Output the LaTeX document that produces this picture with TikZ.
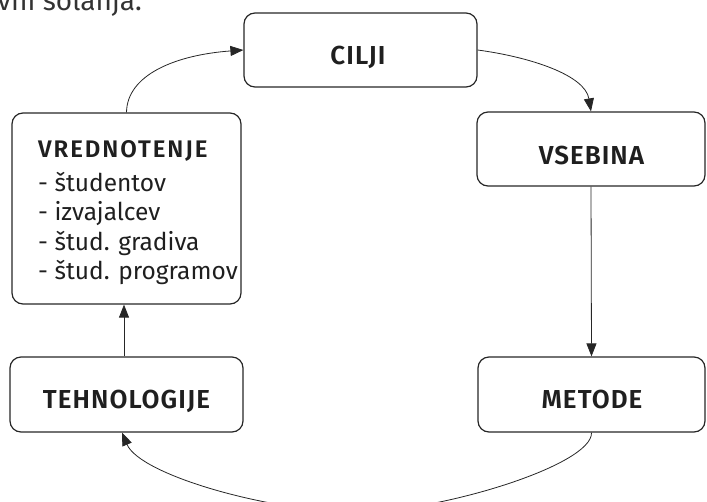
\documentclass[tikz,border=0pt]{standalone}
\usepackage{fontspec}
\setmainfont{Fira Sans}[BoldFont={Fira Sans SemiBold}]
\usetikzlibrary{arrows.meta,calc}
\begin{document}
\begin{tikzpicture}[x=1pt,y=-1pt,
  box/.style={draw=black!85, line width=1.2pt, rounded corners=11pt, inner sep=0pt},
  ttl/.style={font=\fontsize{26}{30}\selectfont\bfseries\addfontfeatures{LetterSpace=4}, text=black!88, inner sep=0pt, anchor=base},
  vttl/.style={font=\fontsize{24}{28}\selectfont\bfseries\addfontfeatures{LetterSpace=8}, text=black!88, inner sep=0pt, anchor=base west},
  item/.style={font=\fontsize{24.5}{28}\selectfont, text=black!88, inner sep=0pt, anchor=base west},
  conn/.style={draw=black!85, line width=0.8pt, -{Triangle[length=13pt,width=10pt]}}]
\useasboundingbox (0,0) rectangle (707,501);
\clip (0,0) rectangle (707,501);
% fragment of page text
\node[font=\fontsize{28}{30}\selectfont, text=black!80, inner sep=0pt, anchor=base east] (frag) at (142,10) {vni šolanja.};
% boxes
\node[box, minimum width=233pt, minimum height=74pt] (cilji) at (360.5,50) {};
\node[box, minimum width=228pt, minimum height=74pt] (vsebina) at (591,149) {};
\node[box, minimum width=229pt, minimum height=191pt] (vred) at (126.5,208.5) {};
\node[box, minimum width=233pt, minimum height=75pt] (tehno) at (126.5,394.5) {};
\node[box, minimum width=227pt, minimum height=75pt] (metode) at (591.5,394.5) {};
% titles
\node[ttl] (ciljit) at (358,64) {CILJI};
\node[ttl] (vsebinat) at (591.5,164) {VSEBINA};
\node[ttl] (tehnot) at (126.5,408) {TEHNOLOGIJE};
\node[ttl] (metodet) at (592,408) {METODE};
\node[vttl] (vredt) at (38,157.3) {VREDNOTENJE};
\node[item] (v1) at (38,191.7) {- študentov};
\node[item] (v2) at (38,220.7) {- izvajalcev};
\node[item] (v3) at (38,250) {- štud. gradiva};
\node[item] (v4) at (38,279) {- štud. programov};
% connectors
\draw[conn] (vred.north) .. controls (127,75) and (175,55) .. (cilji.west);
\draw[conn] (cilji.east) .. controls (530,57) and (585,75) .. (vsebina.north);
\draw[conn] (vsebina.south) -- (metode.north);
\draw[conn] (metode.south) .. controls (593,465) and (440,512) .. (357,512) .. controls (270,512) and (140,475) .. ([xshift=-4.5pt]tehno.south);
\draw[conn] ([xshift=-2.5pt]tehno.north) -- ([xshift=-2.5pt]vred.south);
\end{tikzpicture}
\end{document}
